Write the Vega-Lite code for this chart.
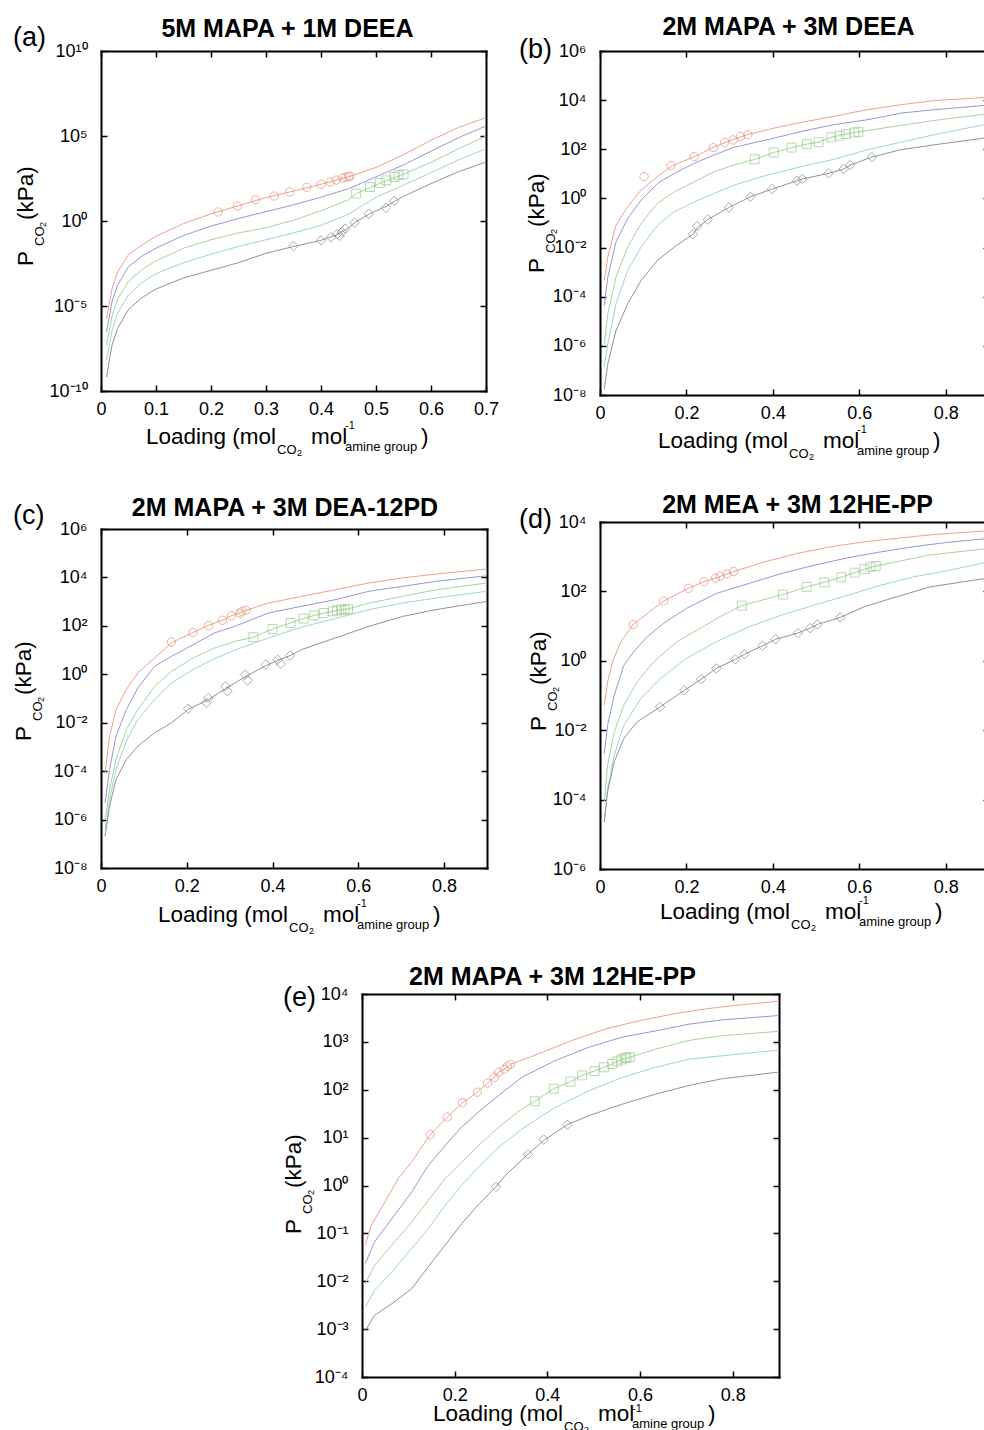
{
  "$schema": "https://vega.github.io/schema/vega-lite/v6.json",
  "padding": {"left": 12, "top": 15, "right": 0, "bottom": 0},
  "autosize": {"type": "pad"},
  "background": "white",
  "datasets": {
    "curves": [
      {"panel":"a","series":"s5","x":0.01,"p":1.78e-6},{"panel":"a","series":"s5","x":0.02,"p":1e-4},{"panel":"a","series":"s5","x":0.03,"p":1e-3},{"panel":"a","series":"s5","x":0.05,"p":1.05e-2},{"panel":"a","series":"s5","x":0.075,"p":3.98e-2},{"panel":"a","series":"s5","x":0.1,"p":0.126},{"panel":"a","series":"s5","x":0.15,"p":0.708},{"panel":"a","series":"s5","x":0.2,"p":2.63},{"panel":"a","series":"s5","x":0.25,"p":7.94},{"panel":"a","series":"s5","x":0.3,"p":24},{"panel":"a","series":"s5","x":0.35,"p":57.5},{"panel":"a","series":"s5","x":0.4,"p":145},{"panel":"a","series":"s5","x":0.45,"p":398},{"panel":"a","series":"s5","x":0.5,"p":1413},{"panel":"a","series":"s5","x":0.55,"p":7943},{"panel":"a","series":"s5","x":0.6,"p":56200},{"panel":"a","series":"s5","x":0.65,"p":316000},{"panel":"a","series":"s5","x":0.7,"p":1200000},
      {"panel":"a","series":"s4","x":0.01,"p":2.95e-7},{"panel":"a","series":"s4","x":0.02,"p":1.78e-5},{"panel":"a","series":"s4","x":0.03,"p":1.66e-4},{"panel":"a","series":"s4","x":0.05,"p":2.09e-3},{"panel":"a","series":"s4","x":0.075,"p":8.91e-3},{"panel":"a","series":"s4","x":0.1,"p":2.51e-2},{"panel":"a","series":"s4","x":0.15,"p":0.141},{"panel":"a","series":"s4","x":0.2,"p":0.501},{"panel":"a","series":"s4","x":0.25,"p":1.41},{"panel":"a","series":"s4","x":0.3,"p":3.55},{"panel":"a","series":"s4","x":0.35,"p":8.91},{"panel":"a","series":"s4","x":0.4,"p":25.1},{"panel":"a","series":"s4","x":0.45,"p":79.4},{"panel":"a","series":"s4","x":0.5,"p":398},{"panel":"a","series":"s4","x":0.55,"p":1995},{"panel":"a","series":"s4","x":0.6,"p":12600},{"panel":"a","series":"s4","x":0.65,"p":79400},{"panel":"a","series":"s4","x":0.7,"p":389000},
      {"panel":"a","series":"s3","x":0.01,"p":4.9e-8},{"panel":"a","series":"s3","x":0.02,"p":2.51e-6},{"panel":"a","series":"s3","x":0.03,"p":2.51e-5},{"panel":"a","series":"s3","x":0.05,"p":2.82e-4},{"panel":"a","series":"s3","x":0.075,"p":1.41e-3},{"panel":"a","series":"s3","x":0.1,"p":4.47e-3},{"panel":"a","series":"s3","x":0.15,"p":2.51e-2},{"panel":"a","series":"s3","x":0.2,"p":7.94e-2},{"panel":"a","series":"s3","x":0.25,"p":0.2},{"panel":"a","series":"s3","x":0.3,"p":0.398},{"panel":"a","series":"s3","x":0.35,"p":1.12},{"panel":"a","series":"s3","x":0.4,"p":3.98},{"panel":"a","series":"s3","x":0.45,"p":17.8},{"panel":"a","series":"s3","x":0.464,"p":39.8},{"panel":"a","series":"s3","x":0.49,"p":95.5},{"panel":"a","series":"s3","x":0.51,"p":178},{"panel":"a","series":"s3","x":0.55,"p":562},{"panel":"a","series":"s3","x":0.6,"p":2818},{"panel":"a","series":"s3","x":0.65,"p":17800},{"panel":"a","series":"s3","x":0.7,"p":100000},
      {"panel":"a","series":"s2","x":0.01,"p":6.31e-9},{"panel":"a","series":"s2","x":0.02,"p":3.55e-7},{"panel":"a","series":"s2","x":0.03,"p":3.55e-6},{"panel":"a","series":"s2","x":0.05,"p":4.47e-5},{"panel":"a","series":"s2","x":0.075,"p":2.51e-4},{"panel":"a","series":"s2","x":0.1,"p":7.94e-4},{"panel":"a","series":"s2","x":0.15,"p":3.55e-3},{"panel":"a","series":"s2","x":0.2,"p":1.12e-2},{"panel":"a","series":"s2","x":0.25,"p":3.16e-2},{"panel":"a","series":"s2","x":0.3,"p":7.94e-2},{"panel":"a","series":"s2","x":0.35,"p":0.2},{"panel":"a","series":"s2","x":0.4,"p":0.562},{"panel":"a","series":"s2","x":0.45,"p":2.51},{"panel":"a","series":"s2","x":0.5,"p":25.1},{"panel":"a","series":"s2","x":0.55,"p":126},{"panel":"a","series":"s2","x":0.6,"p":708},{"panel":"a","series":"s2","x":0.65,"p":3981},{"panel":"a","series":"s2","x":0.7,"p":17800},
      {"panel":"a","series":"s1","x":0.01,"p":6.61e-10},{"panel":"a","series":"s1","x":0.02,"p":5.01e-8},{"panel":"a","series":"s1","x":0.03,"p":4.68e-7},{"panel":"a","series":"s1","x":0.05,"p":6.31e-6},{"panel":"a","series":"s1","x":0.075,"p":3.16e-5},{"panel":"a","series":"s1","x":0.1,"p":1e-4},{"panel":"a","series":"s1","x":0.15,"p":4.47e-4},{"panel":"a","series":"s1","x":0.2,"p":1.26e-3},{"panel":"a","series":"s1","x":0.25,"p":3.55e-3},{"panel":"a","series":"s1","x":0.3,"p":1.26e-2},{"panel":"a","series":"s1","x":0.35,"p":3.16e-2},{"panel":"a","series":"s1","x":0.4,"p":7.24e-2},{"panel":"a","series":"s1","x":0.43,"p":0.158},{"panel":"a","series":"s1","x":0.45,"p":0.398},{"panel":"a","series":"s1","x":0.461,"p":0.794},{"panel":"a","series":"s1","x":0.487,"p":2.51},{"panel":"a","series":"s1","x":0.518,"p":7.08},{"panel":"a","series":"s1","x":0.533,"p":14.1},{"panel":"a","series":"s1","x":0.55,"p":28.2},{"panel":"a","series":"s1","x":0.6,"p":158},{"panel":"a","series":"s1","x":0.65,"p":794},{"panel":"a","series":"s1","x":0.7,"p":2951},

      {"panel":"b","series":"s5","x":0.01,"p":4.57e-4},{"panel":"b","series":"s5","x":0.018,"p":4.17e-3},{"panel":"b","series":"s5","x":0.037,"p":8.13e-2},{"panel":"b","series":"s5","x":0.064,"p":0.457},{"panel":"b","series":"s5","x":0.095,"p":2.19},{"panel":"b","series":"s5","x":0.133,"p":7.76},{"panel":"b","series":"s5","x":0.164,"p":20},{"panel":"b","series":"s5","x":0.218,"p":50.1},{"panel":"b","series":"s5","x":0.262,"p":120},{"panel":"b","series":"s5","x":0.308,"p":251},{"panel":"b","series":"s5","x":0.342,"p":398},{"panel":"b","series":"s5","x":0.402,"p":724},{"panel":"b","series":"s5","x":0.464,"p":1230},{"panel":"b","series":"s5","x":0.541,"p":2188},{"panel":"b","series":"s5","x":0.618,"p":4074},{"panel":"b","series":"s5","x":0.695,"p":6457},{"panel":"b","series":"s5","x":0.772,"p":9550},{"panel":"b","series":"s5","x":0.9,"p":13200},
      {"panel":"b","series":"s4","x":0.01,"p":4.37e-5},{"panel":"b","series":"s4","x":0.018,"p":6.31e-4},{"panel":"b","series":"s4","x":0.037,"p":1.7e-2},{"panel":"b","series":"s4","x":0.064,"p":0.151},{"panel":"b","series":"s4","x":0.095,"p":0.851},{"panel":"b","series":"s4","x":0.133,"p":4.07},{"panel":"b","series":"s4","x":0.172,"p":10.5},{"panel":"b","series":"s4","x":0.218,"p":26.9},{"panel":"b","series":"s4","x":0.264,"p":58.9},{"panel":"b","series":"s4","x":0.31,"p":120},{"panel":"b","series":"s4","x":0.402,"p":282},{"panel":"b","series":"s4","x":0.464,"p":525},{"panel":"b","series":"s4","x":0.541,"p":1000},{"panel":"b","series":"s4","x":0.618,"p":1585},{"panel":"b","series":"s4","x":0.695,"p":2951},{"panel":"b","series":"s4","x":0.772,"p":4074},{"panel":"b","series":"s4","x":0.9,"p":6310},
      {"panel":"b","series":"s3","x":0.01,"p":1.17e-6},{"panel":"b","series":"s3","x":0.018,"p":2e-5},{"panel":"b","series":"s3","x":0.037,"p":6.31e-4},{"panel":"b","series":"s3","x":0.064,"p":1.05e-2},{"panel":"b","series":"s3","x":0.095,"p":9.55e-2},{"panel":"b","series":"s3","x":0.133,"p":0.631},{"panel":"b","series":"s3","x":0.172,"p":1.86},{"panel":"b","series":"s3","x":0.218,"p":4.79},{"panel":"b","series":"s3","x":0.264,"p":12.3},{"panel":"b","series":"s3","x":0.31,"p":22.9},{"panel":"b","series":"s3","x":0.358,"p":38.9},{"panel":"b","series":"s3","x":0.402,"p":74.1},{"panel":"b","series":"s3","x":0.443,"p":117},{"panel":"b","series":"s3","x":0.479,"p":162},{"panel":"b","series":"s3","x":0.506,"p":195},{"panel":"b","series":"s3","x":0.535,"p":309},{"panel":"b","series":"s3","x":0.569,"p":417},{"panel":"b","series":"s3","x":0.598,"p":513},{"panel":"b","series":"s3","x":0.695,"p":933},{"panel":"b","series":"s3","x":0.772,"p":1479},{"panel":"b","series":"s3","x":0.9,"p":2818},
      {"panel":"b","series":"s2","x":0.01,"p":1.32e-7},{"panel":"b","series":"s2","x":0.018,"p":1.17e-6},{"panel":"b","series":"s2","x":0.037,"p":5.13e-5},{"panel":"b","series":"s2","x":0.064,"p":1.17e-3},{"panel":"b","series":"s2","x":0.095,"p":1.05e-2},{"panel":"b","series":"s2","x":0.133,"p":8.13e-2},{"panel":"b","series":"s2","x":0.172,"p":0.288},{"panel":"b","series":"s2","x":0.218,"p":0.724},{"panel":"b","series":"s2","x":0.264,"p":1.58},{"panel":"b","series":"s2","x":0.31,"p":3.47},{"panel":"b","series":"s2","x":0.387,"p":8.91},{"panel":"b","series":"s2","x":0.464,"p":19.5},{"panel":"b","series":"s2","x":0.541,"p":38.9},{"panel":"b","series":"s2","x":0.618,"p":95.5},{"panel":"b","series":"s2","x":0.695,"p":191},{"panel":"b","series":"s2","x":0.772,"p":389},{"panel":"b","series":"s2","x":0.9,"p":1096},
      {"panel":"b","series":"s1","x":0.01,"p":1.7e-8},{"panel":"b","series":"s1","x":0.018,"p":1.82e-7},{"panel":"b","series":"s1","x":0.037,"p":4.17e-6},{"panel":"b","series":"s1","x":0.064,"p":5.13e-5},{"panel":"b","series":"s1","x":0.095,"p":4.57e-4},{"panel":"b","series":"s1","x":0.133,"p":3.02e-3},{"panel":"b","series":"s1","x":0.172,"p":1.05e-2},{"panel":"b","series":"s1","x":0.215,"p":3.47e-2},{"panel":"b","series":"s1","x":0.225,"p":6.31e-2},{"panel":"b","series":"s1","x":0.249,"p":0.138},{"panel":"b","series":"s1","x":0.298,"p":0.427},{"panel":"b","series":"s1","x":0.348,"p":1.17},{"panel":"b","series":"s1","x":0.398,"p":2.4},{"panel":"b","series":"s1","x":0.456,"p":5.25},{"panel":"b","series":"s1","x":0.468,"p":6.17},{"panel":"b","series":"s1","x":0.529,"p":10.5},{"panel":"b","series":"s1","x":0.564,"p":15.8},{"panel":"b","series":"s1","x":0.579,"p":22.9},{"panel":"b","series":"s1","x":0.629,"p":47.9},{"panel":"b","series":"s1","x":0.695,"p":95.5},{"panel":"b","series":"s1","x":0.772,"p":151},{"panel":"b","series":"s1","x":0.9,"p":302},

      {"panel":"c","series":"s5","x":0.0094,"p":8.51e-5},{"panel":"c","series":"s5","x":0.02,"p":2.75e-3},{"panel":"c","series":"s5","x":0.035,"p":3.47e-2},{"panel":"c","series":"s5","x":0.059,"p":0.234},{"panel":"c","series":"s5","x":0.086,"p":1.15},{"panel":"c","series":"s5","x":0.125,"p":4.68},{"panel":"c","series":"s5","x":0.164,"p":20},{"panel":"c","series":"s5","x":0.215,"p":53.7},{"panel":"c","series":"s5","x":0.251,"p":105},{"panel":"c","series":"s5","x":0.283,"p":170},{"panel":"c","series":"s5","x":0.304,"p":263},{"panel":"c","series":"s5","x":0.324,"p":339},{"panel":"c","series":"s5","x":0.338,"p":437},{"panel":"c","series":"s5","x":0.39,"p":871},{"panel":"c","series":"s5","x":0.468,"p":1660},{"panel":"c","series":"s5","x":0.546,"p":3090},{"panel":"c","series":"s5","x":0.625,"p":5888},{"panel":"c","series":"s5","x":0.703,"p":9550},{"panel":"c","series":"s5","x":0.781,"p":13800},{"panel":"c","series":"s5","x":0.9,"p":22400},
      {"panel":"c","series":"s4","x":0.0094,"p":4.9e-6},{"panel":"c","series":"s4","x":0.02,"p":1.17e-4},{"panel":"c","series":"s4","x":0.035,"p":2.75e-3},{"panel":"c","series":"s4","x":0.059,"p":3.47e-2},{"panel":"c","series":"s4","x":0.086,"p":0.275},{"panel":"c","series":"s4","x":0.125,"p":2.14},{"panel":"c","series":"s4","x":0.164,"p":5.5},{"panel":"c","series":"s4","x":0.215,"p":16.6},{"panel":"c","series":"s4","x":0.265,"p":51.3},{"panel":"c","series":"s4","x":0.312,"p":95.5},{"panel":"c","series":"s4","x":0.39,"p":339},{"panel":"c","series":"s4","x":0.468,"p":646},{"panel":"c","series":"s4","x":0.546,"p":1202},{"panel":"c","series":"s4","x":0.625,"p":2692},{"panel":"c","series":"s4","x":0.703,"p":4266},{"panel":"c","series":"s4","x":0.781,"p":6918},{"panel":"c","series":"s4","x":0.9,"p":11700},
      {"panel":"c","series":"s3","x":0.0094,"p":1e-6},{"panel":"c","series":"s3","x":0.02,"p":1.74e-5},{"panel":"c","series":"s3","x":0.035,"p":3.02e-4},{"panel":"c","series":"s3","x":0.059,"p":5.25e-3},{"panel":"c","series":"s3","x":0.086,"p":3.47e-2},{"panel":"c","series":"s3","x":0.125,"p":0.316},{"panel":"c","series":"s3","x":0.164,"p":1.32},{"panel":"c","series":"s3","x":0.215,"p":4.68},{"panel":"c","series":"s3","x":0.265,"p":12.3},{"panel":"c","series":"s3","x":0.312,"p":22.9},{"panel":"c","series":"s3","x":0.355,"p":33.9},{"panel":"c","series":"s3","x":0.4,"p":74.1},{"panel":"c","series":"s3","x":0.442,"p":132},{"panel":"c","series":"s3","x":0.472,"p":200},{"panel":"c","series":"s3","x":0.497,"p":269},{"panel":"c","series":"s3","x":0.519,"p":339},{"panel":"c","series":"s3","x":0.541,"p":398},{"panel":"c","series":"s3","x":0.56,"p":468},{"panel":"c","series":"s3","x":0.576,"p":501},{"panel":"c","series":"s3","x":0.625,"p":871},{"panel":"c","series":"s3","x":0.703,"p":1660},{"panel":"c","series":"s3","x":0.781,"p":3090},{"panel":"c","series":"s3","x":0.9,"p":5888},
      {"panel":"c","series":"s2","x":0.0094,"p":3.89e-7},{"panel":"c","series":"s2","x":0.02,"p":6.76e-6},{"panel":"c","series":"s2","x":0.035,"p":1.17e-4},{"panel":"c","series":"s2","x":0.059,"p":1.74e-3},{"panel":"c","series":"s2","x":0.086,"p":1.35e-2},{"panel":"c","series":"s2","x":0.125,"p":8.91e-2},{"panel":"c","series":"s2","x":0.164,"p":0.437},{"panel":"c","series":"s2","x":0.215,"p":1.58},{"panel":"c","series":"s2","x":0.265,"p":4.47},{"panel":"c","series":"s2","x":0.312,"p":10},{"panel":"c","series":"s2","x":0.39,"p":31.6},{"panel":"c","series":"s2","x":0.468,"p":89.1},{"panel":"c","series":"s2","x":0.546,"p":200},{"panel":"c","series":"s2","x":0.625,"p":468},{"panel":"c","series":"s2","x":0.703,"p":871},{"panel":"c","series":"s2","x":0.781,"p":1413},{"panel":"c","series":"s2","x":0.9,"p":2692},
      {"panel":"c","series":"s1","x":0.0094,"p":2.04e-7},{"panel":"c","series":"s1","x":0.02,"p":3.55e-6},{"panel":"c","series":"s1","x":0.035,"p":4.47e-5},{"panel":"c","series":"s1","x":0.059,"p":3.02e-4},{"panel":"c","series":"s1","x":0.086,"p":1.07e-3},{"panel":"c","series":"s1","x":0.125,"p":3.8e-3},{"panel":"c","series":"s1","x":0.164,"p":9.77e-3},{"panel":"c","series":"s1","x":0.203,"p":3.55e-2},{"panel":"c","series":"s1","x":0.25,"p":8.91e-2},{"panel":"c","series":"s1","x":0.29,"p":0.251},{"panel":"c","series":"s1","x":0.336,"p":0.794},{"panel":"c","series":"s1","x":0.384,"p":2.24},{"panel":"c","series":"s1","x":0.412,"p":3.8},{"panel":"c","series":"s1","x":0.441,"p":5.89},{"panel":"c","series":"s1","x":0.468,"p":10.5},{"panel":"c","series":"s1","x":0.546,"p":31.6},{"panel":"c","series":"s1","x":0.625,"p":95.5},{"panel":"c","series":"s1","x":0.703,"p":245},{"panel":"c","series":"s1","x":0.781,"p":468},{"panel":"c","series":"s1","x":0.9,"p":1023},

      {"panel":"d","series":"s5","x":0.0099,"p":5.25e-2},{"panel":"d","series":"s5","x":0.0175,"p":0.245},{"panel":"d","series":"s5","x":0.029,"p":0.933},{"panel":"d","series":"s5","x":0.048,"p":3.55},{"panel":"d","series":"s5","x":0.077,"p":11.2},{"panel":"d","series":"s5","x":0.147,"p":52.5},{"panel":"d","series":"s5","x":0.205,"p":123},{"panel":"d","series":"s5","x":0.241,"p":191},{"panel":"d","series":"s5","x":0.267,"p":240},{"panel":"d","series":"s5","x":0.294,"p":316},{"panel":"d","series":"s5","x":0.309,"p":372},{"panel":"d","series":"s5","x":0.383,"p":724},{"panel":"d","series":"s5","x":0.459,"p":1259},{"panel":"d","series":"s5","x":0.536,"p":1950},{"panel":"d","series":"s5","x":0.612,"p":2692},{"panel":"d","series":"s5","x":0.688,"p":3388},{"panel":"d","series":"s5","x":0.764,"p":4266},{"panel":"d","series":"s5","x":0.9,"p":5623},
      {"panel":"d","series":"s4","x":0.0099,"p":2.14e-3},{"panel":"d","series":"s4","x":0.0175,"p":1.38e-2},{"panel":"d","series":"s4","x":0.033,"p":0.102},{"panel":"d","series":"s4","x":0.055,"p":0.741},{"panel":"d","series":"s4","x":0.078,"p":1.82},{"panel":"d","series":"s4","x":0.109,"p":4.9},{"panel":"d","series":"s4","x":0.147,"p":12},{"panel":"d","series":"s4","x":0.2,"p":32.4},{"panel":"d","series":"s4","x":0.269,"p":87.1},{"panel":"d","series":"s4","x":0.345,"p":170},{"panel":"d","series":"s4","x":0.421,"p":331},{"panel":"d","series":"s4","x":0.497,"p":575},{"panel":"d","series":"s4","x":0.574,"p":933},{"panel":"d","series":"s4","x":0.65,"p":1380},{"panel":"d","series":"s4","x":0.726,"p":1950},{"panel":"d","series":"s4","x":0.802,"p":2570},{"panel":"d","series":"s4","x":0.9,"p":3388},
      {"panel":"d","series":"s3","x":0.0099,"p":8.51e-5},{"panel":"d","series":"s3","x":0.0175,"p":9.77e-4},{"panel":"d","series":"s3","x":0.033,"p":8.91e-3},{"panel":"d","series":"s3","x":0.055,"p":5.25e-2},{"panel":"d","series":"s3","x":0.086,"p":0.245},{"panel":"d","series":"s3","x":0.124,"p":0.933},{"panel":"d","series":"s3","x":0.178,"p":3.55},{"panel":"d","series":"s3","x":0.231,"p":8.51},{"panel":"d","series":"s3","x":0.277,"p":18.6},{"panel":"d","series":"s3","x":0.328,"p":38.9},{"panel":"d","series":"s3","x":0.423,"p":81.3},{"panel":"d","series":"s3","x":0.478,"p":135},{"panel":"d","series":"s3","x":0.519,"p":182},{"panel":"d","series":"s3","x":0.558,"p":257},{"panel":"d","series":"s3","x":0.589,"p":347},{"panel":"d","series":"s3","x":0.612,"p":437},{"panel":"d","series":"s3","x":0.638,"p":537},{"panel":"d","series":"s3","x":0.688,"p":724},{"panel":"d","series":"s3","x":0.764,"p":1122},{"panel":"d","series":"s3","x":0.9,"p":1738},
      {"panel":"d","series":"s2","x":0.0099,"p":2.29e-5},{"panel":"d","series":"s2","x":0.0175,"p":2.09e-4},{"panel":"d","series":"s2","x":0.033,"p":1.91e-3},{"panel":"d","series":"s2","x":0.055,"p":1.38e-2},{"panel":"d","series":"s2","x":0.094,"p":8.13e-2},{"panel":"d","series":"s2","x":0.14,"p":0.309},{"panel":"d","series":"s2","x":0.2,"p":1.17},{"panel":"d","series":"s2","x":0.269,"p":3.55},{"panel":"d","series":"s2","x":0.345,"p":9.55},{"panel":"d","series":"s2","x":0.421,"p":20.9},{"panel":"d","series":"s2","x":0.497,"p":40.7},{"panel":"d","series":"s2","x":0.574,"p":77.6},{"panel":"d","series":"s2","x":0.65,"p":151},{"panel":"d","series":"s2","x":0.726,"p":263},{"panel":"d","series":"s2","x":0.802,"p":389},{"panel":"d","series":"s2","x":0.9,"p":724},
      {"panel":"d","series":"s1","x":0.0099,"p":2.29e-5},{"panel":"d","series":"s1","x":0.0175,"p":1.66e-4},{"panel":"d","series":"s1","x":0.033,"p":1.23e-3},{"panel":"d","series":"s1","x":0.055,"p":5.75e-3},{"panel":"d","series":"s1","x":0.086,"p":1.74e-2},{"panel":"d","series":"s1","x":0.139,"p":4.68e-2},{"panel":"d","series":"s1","x":0.195,"p":0.141},{"panel":"d","series":"s1","x":0.234,"p":0.295},{"panel":"d","series":"s1","x":0.269,"p":0.603},{"panel":"d","series":"s1","x":0.313,"p":1.1},{"panel":"d","series":"s1","x":0.334,"p":1.55},{"panel":"d","series":"s1","x":0.376,"p":2.69},{"panel":"d","series":"s1","x":0.406,"p":4.17},{"panel":"d","series":"s1","x":0.458,"p":6.31},{"panel":"d","series":"s1","x":0.486,"p":8.71},{"panel":"d","series":"s1","x":0.503,"p":11.2},{"panel":"d","series":"s1","x":0.556,"p":17.8},{"panel":"d","series":"s1","x":0.612,"p":36.3},{"panel":"d","series":"s1","x":0.688,"p":70.8},{"panel":"d","series":"s1","x":0.764,"p":135},{"panel":"d","series":"s1","x":0.9,"p":245},

      {"panel":"e","series":"s5","x":0.0072,"p":5.62e-2},{"panel":"e","series":"s5","x":0.02,"p":0.148},{"panel":"e","series":"s5","x":0.049,"p":0.447},{"panel":"e","series":"s5","x":0.078,"p":1.38},{"panel":"e","series":"s5","x":0.107,"p":3.09},{"panel":"e","series":"s5","x":0.147,"p":11.5},{"panel":"e","series":"s5","x":0.184,"p":26.9},{"panel":"e","series":"s5","x":0.217,"p":53.7},{"panel":"e","series":"s5","x":0.249,"p":89.1},{"panel":"e","series":"s5","x":0.271,"p":138},{"panel":"e","series":"s5","x":0.285,"p":182},{"panel":"e","series":"s5","x":0.295,"p":234},{"panel":"e","series":"s5","x":0.307,"p":269},{"panel":"e","series":"s5","x":0.32,"p":339},{"panel":"e","series":"s5","x":0.381,"p":562},{"panel":"e","series":"s5","x":0.453,"p":1072},{"panel":"e","series":"s5","x":0.526,"p":1862},{"panel":"e","series":"s5","x":0.598,"p":2754},{"panel":"e","series":"s5","x":0.67,"p":3802},{"panel":"e","series":"s5","x":0.742,"p":4898},{"panel":"e","series":"s5","x":0.814,"p":5888},{"panel":"e","series":"s5","x":0.9,"p":7079},
      {"panel":"e","series":"s4","x":0.0072,"p":2.34e-2},{"panel":"e","series":"s4","x":0.027,"p":6.61e-2},{"panel":"e","series":"s4","x":0.064,"p":0.2},{"panel":"e","series":"s4","x":0.107,"p":0.724},{"panel":"e","series":"s4","x":0.143,"p":2.63},{"panel":"e","series":"s4","x":0.179,"p":6.76},{"panel":"e","series":"s4","x":0.215,"p":16.6},{"panel":"e","series":"s4","x":0.251,"p":33.9},{"panel":"e","series":"s4","x":0.295,"p":75.9},{"panel":"e","series":"s4","x":0.345,"p":182},{"panel":"e","series":"s4","x":0.417,"p":407},{"panel":"e","series":"s4","x":0.49,"p":776},{"panel":"e","series":"s4","x":0.562,"p":1259},{"panel":"e","series":"s4","x":0.634,"p":1698},{"panel":"e","series":"s4","x":0.706,"p":2344},{"panel":"e","series":"s4","x":0.778,"p":2884},{"panel":"e","series":"s4","x":0.9,"p":3548},
      {"panel":"e","series":"s3","x":0.0072,"p":8.91e-3},{"panel":"e","series":"s3","x":0.027,"p":2.14e-2},{"panel":"e","series":"s3","x":0.064,"p":5.62e-2},{"panel":"e","series":"s3","x":0.107,"p":0.17},{"panel":"e","series":"s3","x":0.143,"p":0.49},{"panel":"e","series":"s3","x":0.179,"p":1.38},{"panel":"e","series":"s3","x":0.215,"p":3.09},{"panel":"e","series":"s3","x":0.251,"p":6.76},{"panel":"e","series":"s3","x":0.295,"p":16.6},{"panel":"e","series":"s3","x":0.345,"p":39.8},{"panel":"e","series":"s3","x":0.373,"p":57.5},{"panel":"e","series":"s3","x":0.414,"p":105},{"panel":"e","series":"s3","x":0.45,"p":148},{"panel":"e","series":"s3","x":0.475,"p":200},{"panel":"e","series":"s3","x":0.502,"p":245},{"panel":"e","series":"s3","x":0.522,"p":295},{"panel":"e","series":"s3","x":0.54,"p":347},{"panel":"e","series":"s3","x":0.56,"p":427},{"panel":"e","series":"s3","x":0.578,"p":479},{"panel":"e","series":"s3","x":0.634,"p":708},{"panel":"e","series":"s3","x":0.706,"p":1072},{"panel":"e","series":"s3","x":0.778,"p":1349},{"panel":"e","series":"s3","x":0.9,"p":1660},
      {"panel":"e","series":"s2","x":0.0072,"p":2.88e-3},{"panel":"e","series":"s2","x":0.027,"p":6.46e-3},{"panel":"e","series":"s2","x":0.064,"p":1.55e-2},{"panel":"e","series":"s2","x":0.107,"p":4.79e-2},{"panel":"e","series":"s2","x":0.143,"p":0.126},{"panel":"e","series":"s2","x":0.179,"p":0.38},{"panel":"e","series":"s2","x":0.215,"p":1},{"panel":"e","series":"s2","x":0.251,"p":2.4},{"panel":"e","series":"s2","x":0.295,"p":6.31},{"panel":"e","series":"s2","x":0.345,"p":15.1},{"panel":"e","series":"s2","x":0.417,"p":42.7},{"panel":"e","series":"s2","x":0.49,"p":95.5},{"panel":"e","series":"s2","x":0.562,"p":182},{"panel":"e","series":"s2","x":0.634,"p":295},{"panel":"e","series":"s2","x":0.706,"p":437},{"panel":"e","series":"s2","x":0.778,"p":513},{"panel":"e","series":"s2","x":0.9,"p":676},
      {"panel":"e","series":"s1","x":0.0072,"p":9.33e-4},{"panel":"e","series":"s1","x":0.027,"p":1.95e-3},{"panel":"e","series":"s1","x":0.064,"p":3.39e-3},{"panel":"e","series":"s1","x":0.107,"p":6.92e-3},{"panel":"e","series":"s1","x":0.143,"p":2e-2},{"panel":"e","series":"s1","x":0.179,"p":5.62e-2},{"panel":"e","series":"s1","x":0.215,"p":0.158},{"panel":"e","series":"s1","x":0.251,"p":0.398},{"panel":"e","series":"s1","x":0.289,"p":0.933},{"panel":"e","series":"s1","x":0.309,"p":1.62},{"panel":"e","series":"s1","x":0.358,"p":4.47},{"panel":"e","series":"s1","x":0.392,"p":8.71},{"panel":"e","series":"s1","x":0.443,"p":18.6},{"panel":"e","series":"s1","x":0.49,"p":28.8},{"panel":"e","series":"s1","x":0.562,"p":50.1},{"panel":"e","series":"s1","x":0.634,"p":81.3},{"panel":"e","series":"s1","x":0.706,"p":123},{"panel":"e","series":"s1","x":0.778,"p":170},{"panel":"e","series":"s1","x":0.9,"p":234}
    ],
    "points": [
      {"panel":"a","series":"s5","x":0.213,"p":3.39},{"panel":"a","series":"s5","x":0.248,"p":7.59},{"panel":"a","series":"s5","x":0.281,"p":17.8},{"panel":"a","series":"s5","x":0.315,"p":29.5},{"panel":"a","series":"s5","x":0.343,"p":51.3},{"panel":"a","series":"s5","x":0.374,"p":95.5},{"panel":"a","series":"s5","x":0.4,"p":145},{"panel":"a","series":"s5","x":0.417,"p":195},{"panel":"a","series":"s5","x":0.428,"p":257},{"panel":"a","series":"s5","x":0.439,"p":324},{"panel":"a","series":"s5","x":0.445,"p":372},{"panel":"a","series":"s5","x":0.45,"p":407},{"panel":"a","series":"s5","x":0.453,"p":427},
      {"panel":"a","series":"s3","x":0.464,"p":40.7},{"panel":"a","series":"s3","x":0.489,"p":100},{"panel":"a","series":"s3","x":0.507,"p":174},{"panel":"a","series":"s3","x":0.519,"p":245},{"panel":"a","series":"s3","x":0.533,"p":389},{"panel":"a","series":"s3","x":0.541,"p":490},{"panel":"a","series":"s3","x":0.55,"p":562},
      {"panel":"a","series":"s1","x":0.35,"p":3.39e-2},{"panel":"a","series":"s1","x":0.4,"p":7.24e-2},{"panel":"a","series":"s1","x":0.418,"p":0.11},{"panel":"a","series":"s1","x":0.43,"p":0.178},{"panel":"a","series":"s1","x":0.434,"p":0.132},{"panel":"a","series":"s1","x":0.438,"p":0.224},{"panel":"a","series":"s1","x":0.444,"p":0.355},{"panel":"a","series":"s1","x":0.461,"p":0.794},{"panel":"a","series":"s1","x":0.487,"p":2.69},{"panel":"a","series":"s1","x":0.518,"p":6.03},{"panel":"a","series":"s1","x":0.533,"p":15.1},
      {"panel":"b","series":"s5","x":0.102,"p":7.76},{"panel":"b","series":"s5","x":0.164,"p":21.9},{"panel":"b","series":"s5","x":0.218,"p":50.1},{"panel":"b","series":"s5","x":0.262,"p":117},{"panel":"b","series":"s5","x":0.288,"p":191},{"panel":"b","series":"s5","x":0.308,"p":240},{"panel":"b","series":"s5","x":0.325,"p":331},{"panel":"b","series":"s5","x":0.342,"p":389},
      {"panel":"b","series":"s3","x":0.358,"p":38.9},{"panel":"b","series":"s3","x":0.402,"p":74.1},{"panel":"b","series":"s3","x":0.443,"p":117},{"panel":"b","series":"s3","x":0.479,"p":162},{"panel":"b","series":"s3","x":0.506,"p":195},{"panel":"b","series":"s3","x":0.535,"p":309},{"panel":"b","series":"s3","x":0.554,"p":355},{"panel":"b","series":"s3","x":0.569,"p":417},{"panel":"b","series":"s3","x":0.588,"p":479},{"panel":"b","series":"s3","x":0.598,"p":513},
      {"panel":"b","series":"s1","x":0.215,"p":3.47e-2},{"panel":"b","series":"s1","x":0.225,"p":7.41e-2},{"panel":"b","series":"s1","x":0.249,"p":0.138},{"panel":"b","series":"s1","x":0.298,"p":0.427},{"panel":"b","series":"s1","x":0.348,"p":1.17},{"panel":"b","series":"s1","x":0.398,"p":2.4},{"panel":"b","series":"s1","x":0.456,"p":5.25},{"panel":"b","series":"s1","x":0.468,"p":6.17},{"panel":"b","series":"s1","x":0.529,"p":10.5},{"panel":"b","series":"s1","x":0.564,"p":15.8},{"panel":"b","series":"s1","x":0.579,"p":22.9},{"panel":"b","series":"s1","x":0.629,"p":47.9},
      {"panel":"c","series":"s5","x":0.164,"p":21.4},{"panel":"c","series":"s5","x":0.214,"p":53.7},{"panel":"c","series":"s5","x":0.251,"p":102},{"panel":"c","series":"s5","x":0.283,"p":170},{"panel":"c","series":"s5","x":0.304,"p":263},{"panel":"c","series":"s5","x":0.324,"p":339},{"panel":"c","series":"s5","x":0.329,"p":398},{"panel":"c","series":"s5","x":0.338,"p":437},
      {"panel":"c","series":"s3","x":0.355,"p":33.9},{"panel":"c","series":"s3","x":0.4,"p":74.1},{"panel":"c","series":"s3","x":0.442,"p":132},{"panel":"c","series":"s3","x":0.472,"p":200},{"panel":"c","series":"s3","x":0.497,"p":269},{"panel":"c","series":"s3","x":0.519,"p":339},{"panel":"c","series":"s3","x":0.541,"p":398},{"panel":"c","series":"s3","x":0.55,"p":437},{"panel":"c","series":"s3","x":0.56,"p":468},{"panel":"c","series":"s3","x":0.568,"p":468},{"panel":"c","series":"s3","x":0.576,"p":501},
      {"panel":"c","series":"s1","x":0.203,"p":3.8e-2},{"panel":"c","series":"s1","x":0.246,"p":6.61e-2},{"panel":"c","series":"s1","x":0.25,"p":0.105},{"panel":"c","series":"s1","x":0.29,"p":0.316},{"panel":"c","series":"s1","x":0.295,"p":0.2},{"panel":"c","series":"s1","x":0.336,"p":0.977},{"panel":"c","series":"s1","x":0.342,"p":0.562},{"panel":"c","series":"s1","x":0.384,"p":2.51},{"panel":"c","series":"s1","x":0.412,"p":3.98},{"panel":"c","series":"s1","x":0.419,"p":2.69},{"panel":"c","series":"s1","x":0.441,"p":5.89},
      {"panel":"d","series":"s5","x":0.077,"p":11.2},{"panel":"d","series":"s5","x":0.147,"p":52.5},{"panel":"d","series":"s5","x":0.205,"p":123},{"panel":"d","series":"s5","x":0.241,"p":191},{"panel":"d","series":"s5","x":0.267,"p":240},{"panel":"d","series":"s5","x":0.278,"p":275},{"panel":"d","series":"s5","x":0.294,"p":316},{"panel":"d","series":"s5","x":0.309,"p":372},
      {"panel":"d","series":"s3","x":0.328,"p":38.9},{"panel":"d","series":"s3","x":0.423,"p":81.3},{"panel":"d","series":"s3","x":0.478,"p":135},{"panel":"d","series":"s3","x":0.519,"p":182},{"panel":"d","series":"s3","x":0.558,"p":257},{"panel":"d","series":"s3","x":0.589,"p":347},{"panel":"d","series":"s3","x":0.612,"p":437},{"panel":"d","series":"s3","x":0.626,"p":513},{"panel":"d","series":"s3","x":0.638,"p":537},
      {"panel":"d","series":"s1","x":0.139,"p":4.68e-2},{"panel":"d","series":"s1","x":0.195,"p":0.141},{"panel":"d","series":"s1","x":0.234,"p":0.295},{"panel":"d","series":"s1","x":0.269,"p":0.603},{"panel":"d","series":"s1","x":0.313,"p":1.1},{"panel":"d","series":"s1","x":0.334,"p":1.55},{"panel":"d","series":"s1","x":0.376,"p":2.69},{"panel":"d","series":"s1","x":0.406,"p":4.17},{"panel":"d","series":"s1","x":0.458,"p":6.31},{"panel":"d","series":"s1","x":0.486,"p":8.71},{"panel":"d","series":"s1","x":0.503,"p":11.2},{"panel":"d","series":"s1","x":0.556,"p":17.8},
      {"panel":"e","series":"s5","x":0.147,"p":11.5},{"panel":"e","series":"s5","x":0.184,"p":26.9},{"panel":"e","series":"s5","x":0.217,"p":53.7},{"panel":"e","series":"s5","x":0.249,"p":89.1},{"panel":"e","series":"s5","x":0.271,"p":138},{"panel":"e","series":"s5","x":0.285,"p":182},{"panel":"e","series":"s5","x":0.295,"p":234},{"panel":"e","series":"s5","x":0.307,"p":269},{"panel":"e","series":"s5","x":0.314,"p":309},{"panel":"e","series":"s5","x":0.32,"p":339},
      {"panel":"e","series":"s3","x":0.373,"p":57.5},{"panel":"e","series":"s3","x":0.414,"p":105},{"panel":"e","series":"s3","x":0.45,"p":148},{"panel":"e","series":"s3","x":0.475,"p":200},{"panel":"e","series":"s3","x":0.502,"p":245},{"panel":"e","series":"s3","x":0.522,"p":295},{"panel":"e","series":"s3","x":0.54,"p":347},{"panel":"e","series":"s3","x":0.551,"p":389},{"panel":"e","series":"s3","x":0.56,"p":427},{"panel":"e","series":"s3","x":0.567,"p":457},{"panel":"e","series":"s3","x":0.571,"p":468},{"panel":"e","series":"s3","x":0.578,"p":479},
      {"panel":"e","series":"s1","x":0.289,"p":0.933},{"panel":"e","series":"s1","x":0.358,"p":4.47},{"panel":"e","series":"s1","x":0.392,"p":9.12},{"panel":"e","series":"s1","x":0.443,"p":18.6}
    ]
  },
  "spacing": 29,
  "vconcat": [
    {
      "spacing": 20,
      "hconcat": [
        {
          "bounds": "flush",
          "spacing": 138,
          "vconcat": [
            {
              "width": 385, "height": 340,
              "layer": [
                {"data": {"name": "curves"}, "transform": [{"filter": "datum.panel == 'a'"}],
                 "mark": {"type": "line", "strokeWidth": 1, "clip": true},
                 "encoding": {
                   "x": {"field": "x", "type": "quantitative", "scale": {"domain": [0, 0.7]}, "axis": {"orient": "bottom", "values": [0,0.1,0.2,0.3,0.4,0.5,0.6,0.7], "format": "~g", "title": null}},
                   "y": {"field": "p", "type": "quantitative", "scale": {"type": "log", "domain": [1e-10, 1e10]}, "axis": {"orient": "left", "values": [1e-10,1e-5,1,1e5,1e10], "labelExpr": "'10' + ['⁻¹⁰','⁻⁹','⁻⁸','⁻⁷','⁻⁶','⁻⁵','⁻⁴','⁻³','⁻²','⁻¹','⁰','¹','²','³','⁴','⁵','⁶','⁷','⁸','⁹','¹⁰'][round(log(datum.value) / LN10) + 10]", "title": null}},
                   "color": {"field": "series", "type": "nominal", "scale": {"domain": ["s1","s2","s3","s4","s5"], "range": ["#939393","#9dd5d0","#a3d59a","#9b94d5","#eea08f"]}, "legend": null}
                 }},
                {"data": {"name": "points"}, "transform": [{"filter": "datum.panel == 'a'"}],
                 "mark": {"type": "point", "filled": false, "strokeWidth": 1},
                 "encoding": {
                   "x": {"field": "x", "type": "quantitative", "axis": {"orient": "top", "values": [0,0.1,0.2,0.3,0.4,0.5,0.6,0.7], "labels": false, "title": null}},
                   "y": {"field": "p", "type": "quantitative", "axis": {"orient": "right", "values": [1e-10,1e-5,1,1e5,1e10], "labels": false, "title": null}},
                   "stroke": {"field": "series", "type": "nominal", "scale": {"domain": ["s1","s3","s5"], "range": ["#888888","#98cc8c","#e88f7c"]}, "legend": null},
                   "shape": {"field": "series", "type": "nominal", "scale": {"domain": ["s1","s3","s5"], "range": ["diamond","square","circle"]}, "legend": null},
                   "size": {"field": "series", "type": "ordinal", "scale": {"domain": ["s1","s3","s5"], "range": [90,70,72]}, "legend": null}
                 }},
                {"data": {"values": [{}]}, "mark": {"type": "text", "style": "lab", "text": "(a)", "dx": -88, "dy": -5}, "encoding": {"x": {"datum": 0, "axis": null}, "y": {"datum": 1e10, "axis": null}}},
                {"data": {"values": [{}]}, "mark": {"type": "text", "style": "ttl", "text": "5M MAPA + 1M DEEA", "dx": -6, "dy": -14}, "encoding": {"x": {"datum": 0.35, "axis": null}, "y": {"datum": 1e10, "axis": null}}},
                {"data": {"values": [{}]}, "mark": {"type": "text", "style": ["t22","rot"], "text": "P", "dx": 125, "dy": -68}, "encoding": {"x": {"datum": 0, "axis": null}, "y": {"datum": 1e-10, "axis": null}}},
                {"data": {"values": [{}]}, "mark": {"type": "text", "style": ["t13","rot"], "text": "CO", "dx": 145, "dy": -57}, "encoding": {"x": {"datum": 0, "axis": null}, "y": {"datum": 1e-10, "axis": null}}},
                {"data": {"values": [{}]}, "mark": {"type": "text", "style": ["t9","rot"], "text": "2", "dx": 164, "dy": -55}, "encoding": {"x": {"datum": 0, "axis": null}, "y": {"datum": 1e-10, "axis": null}}},
                {"data": {"values": [{}]}, "mark": {"type": "text", "style": ["t22","rot"], "text": "(kPa)", "dx": 171, "dy": -68}, "encoding": {"x": {"datum": 0, "axis": null}, "y": {"datum": 1e-10, "axis": null}}},
                {"data": {"values": [{}]}, "mark": {"type": "text", "style": "t22", "text": "Loading (mol", "dx": 45, "dy": 53}, "encoding": {"x": {"datum": 0, "axis": null}, "y": {"datum": 1e-10, "axis": null}}},
                {"data": {"values": [{}]}, "mark": {"type": "text", "style": "t13", "text": "CO", "dx": 176, "dy": 63}, "encoding": {"x": {"datum": 0, "axis": null}, "y": {"datum": 1e-10, "axis": null}}},
                {"data": {"values": [{}]}, "mark": {"type": "text", "style": "t9", "text": "2", "dx": 196, "dy": 65}, "encoding": {"x": {"datum": 0, "axis": null}, "y": {"datum": 1e-10, "axis": null}}},
                {"data": {"values": [{}]}, "mark": {"type": "text", "style": "t22", "text": "mol", "dx": 210, "dy": 53}, "encoding": {"x": {"datum": 0, "axis": null}, "y": {"datum": 1e-10, "axis": null}}},
                {"data": {"values": [{}]}, "mark": {"type": "text", "style": "t11", "text": "-1", "dx": 244, "dy": 38}, "encoding": {"x": {"datum": 0, "axis": null}, "y": {"datum": 1e-10, "axis": null}}},
                {"data": {"values": [{}]}, "mark": {"type": "text", "style": "t13", "text": "amine group", "dx": 244, "dy": 60}, "encoding": {"x": {"datum": 0, "axis": null}, "y": {"datum": 1e-10, "axis": null}}},
                {"data": {"values": [{}]}, "mark": {"type": "text", "style": "t22", "text": ")", "dx": 320, "dy": 53}, "encoding": {"x": {"datum": 0, "axis": null}, "y": {"datum": 1e-10, "axis": null}}}
              ],
              "resolve": {"axis": {"x": "independent", "y": "independent"}}
            },
            {
              "width": 386, "height": 339,
              "layer": [
                {"data": {"name": "curves"}, "transform": [{"filter": "datum.panel == 'c'"}],
                 "mark": {"type": "line", "strokeWidth": 1, "clip": true},
                 "encoding": {
                   "x": {"field": "x", "type": "quantitative", "scale": {"domain": [0, 0.9]}, "axis": {"orient": "bottom", "values": [0,0.2,0.4,0.6,0.8], "format": "~g", "title": null}},
                   "y": {"field": "p", "type": "quantitative", "scale": {"type": "log", "domain": [1e-8, 1e6]}, "axis": {"orient": "left", "values": [1e-8,1e-6,1e-4,1e-2,1,1e2,1e4,1e6], "labelExpr": "'10' + ['⁻¹⁰','⁻⁹','⁻⁸','⁻⁷','⁻⁶','⁻⁵','⁻⁴','⁻³','⁻²','⁻¹','⁰','¹','²','³','⁴','⁵','⁶','⁷','⁸','⁹','¹⁰'][round(log(datum.value) / LN10) + 10]", "title": null}},
                   "color": {"field": "series", "type": "nominal", "scale": {"domain": ["s1","s2","s3","s4","s5"], "range": ["#939393","#9dd5d0","#a3d59a","#9b94d5","#eea08f"]}, "legend": null}
                 }},
                {"data": {"name": "points"}, "transform": [{"filter": "datum.panel == 'c'"}],
                 "mark": {"type": "point", "filled": false, "strokeWidth": 1},
                 "encoding": {
                   "x": {"field": "x", "type": "quantitative", "axis": {"orient": "top", "values": [0,0.2,0.4,0.6,0.8], "labels": false, "title": null}},
                   "y": {"field": "p", "type": "quantitative", "axis": {"orient": "right", "values": [1e-8,1e-6,1e-4,1e-2,1,1e2,1e4,1e6], "labels": false, "title": null}},
                   "stroke": {"field": "series", "type": "nominal", "scale": {"domain": ["s1","s3","s5"], "range": ["#888888","#98cc8c","#e88f7c"]}, "legend": null},
                   "shape": {"field": "series", "type": "nominal", "scale": {"domain": ["s1","s3","s5"], "range": ["diamond","square","circle"]}, "legend": null},
                   "size": {"field": "series", "type": "ordinal", "scale": {"domain": ["s1","s3","s5"], "range": [90,70,72]}, "legend": null}
                 }},
                {"data": {"values": [{}]}, "mark": {"type": "text", "style": "lab", "text": "(c)", "dx": -88, "dy": -5}, "encoding": {"x": {"datum": 0, "axis": null}, "y": {"datum": 1e6, "axis": null}}},
                {"data": {"values": [{}]}, "mark": {"type": "text", "style": "ttl", "text": "2M MAPA + 3M DEA-12PD", "dx": -9, "dy": -13}, "encoding": {"x": {"datum": 0.45, "axis": null}, "y": {"datum": 1e6, "axis": null}}},
                {"data": {"values": [{}]}, "mark": {"type": "text", "style": ["t22","rot"], "text": "P", "dx": 127, "dy": -70}, "encoding": {"x": {"datum": 0, "axis": null}, "y": {"datum": 1e-8, "axis": null}}},
                {"data": {"values": [{}]}, "mark": {"type": "text", "style": ["t13","rot"], "text": "CO", "dx": 147, "dy": -59}, "encoding": {"x": {"datum": 0, "axis": null}, "y": {"datum": 1e-8, "axis": null}}},
                {"data": {"values": [{}]}, "mark": {"type": "text", "style": ["t9","rot"], "text": "2", "dx": 166, "dy": -57}, "encoding": {"x": {"datum": 0, "axis": null}, "y": {"datum": 1e-8, "axis": null}}},
                {"data": {"values": [{}]}, "mark": {"type": "text", "style": ["t22","rot"], "text": "(kPa)", "dx": 173, "dy": -70}, "encoding": {"x": {"datum": 0, "axis": null}, "y": {"datum": 1e-8, "axis": null}}},
                {"data": {"values": [{}]}, "mark": {"type": "text", "style": "t22", "text": "Loading (mol", "dx": 57, "dy": 54}, "encoding": {"x": {"datum": 0, "axis": null}, "y": {"datum": 1e-8, "axis": null}}},
                {"data": {"values": [{}]}, "mark": {"type": "text", "style": "t13", "text": "CO", "dx": 188, "dy": 64}, "encoding": {"x": {"datum": 0, "axis": null}, "y": {"datum": 1e-8, "axis": null}}},
                {"data": {"values": [{}]}, "mark": {"type": "text", "style": "t9", "text": "2", "dx": 208, "dy": 66}, "encoding": {"x": {"datum": 0, "axis": null}, "y": {"datum": 1e-8, "axis": null}}},
                {"data": {"values": [{}]}, "mark": {"type": "text", "style": "t22", "text": "mol", "dx": 222, "dy": 54}, "encoding": {"x": {"datum": 0, "axis": null}, "y": {"datum": 1e-8, "axis": null}}},
                {"data": {"values": [{}]}, "mark": {"type": "text", "style": "t11", "text": "-1", "dx": 256, "dy": 39}, "encoding": {"x": {"datum": 0, "axis": null}, "y": {"datum": 1e-8, "axis": null}}},
                {"data": {"values": [{}]}, "mark": {"type": "text", "style": "t13", "text": "amine group", "dx": 256, "dy": 61}, "encoding": {"x": {"datum": 0, "axis": null}, "y": {"datum": 1e-8, "axis": null}}},
                {"data": {"values": [{}]}, "mark": {"type": "text", "style": "t22", "text": ")", "dx": 332, "dy": 54}, "encoding": {"x": {"datum": 0, "axis": null}, "y": {"datum": 1e-8, "axis": null}}}
              ],
              "resolve": {"axis": {"x": "independent", "y": "independent"}}
            }
          ]
        },
        {
          "bounds": "flush",
          "spacing": 127,
          "vconcat": [
            {
              "width": 389, "height": 344,
              "layer": [
                {"data": {"name": "curves"}, "transform": [{"filter": "datum.panel == 'b'"}],
                 "mark": {"type": "line", "strokeWidth": 1, "clip": true},
                 "encoding": {
                   "x": {"field": "x", "type": "quantitative", "scale": {"domain": [0, 0.9]}, "axis": {"orient": "bottom", "values": [0,0.2,0.4,0.6,0.8], "format": "~g", "title": null}},
                   "y": {"field": "p", "type": "quantitative", "scale": {"type": "log", "domain": [1e-8, 1e6]}, "axis": {"orient": "left", "values": [1e-8,1e-6,1e-4,1e-2,1,1e2,1e4,1e6], "labelExpr": "'10' + ['⁻¹⁰','⁻⁹','⁻⁸','⁻⁷','⁻⁶','⁻⁵','⁻⁴','⁻³','⁻²','⁻¹','⁰','¹','²','³','⁴','⁵','⁶','⁷','⁸','⁹','¹⁰'][round(log(datum.value) / LN10) + 10]", "title": null}},
                   "color": {"field": "series", "type": "nominal", "scale": {"domain": ["s1","s2","s3","s4","s5"], "range": ["#939393","#9dd5d0","#a3d59a","#9b94d5","#eea08f"]}, "legend": null}
                 }},
                {"data": {"name": "points"}, "transform": [{"filter": "datum.panel == 'b'"}],
                 "mark": {"type": "point", "filled": false, "strokeWidth": 1},
                 "encoding": {
                   "x": {"field": "x", "type": "quantitative", "axis": {"orient": "top", "values": [0,0.2,0.4,0.6,0.8], "labels": false, "title": null}},
                   "y": {"field": "p", "type": "quantitative", "axis": {"orient": "right", "values": [1e-8,1e-6,1e-4,1e-2,1,1e2,1e4,1e6], "labels": false, "title": null}},
                   "stroke": {"field": "series", "type": "nominal", "scale": {"domain": ["s1","s3","s5"], "range": ["#888888","#98cc8c","#e88f7c"]}, "legend": null},
                   "shape": {"field": "series", "type": "nominal", "scale": {"domain": ["s1","s3","s5"], "range": ["diamond","square","circle"]}, "legend": null},
                   "size": {"field": "series", "type": "ordinal", "scale": {"domain": ["s1","s3","s5"], "range": [90,70,72]}, "legend": null}
                 }},
                {"data": {"values": [{}]}, "mark": {"type": "text", "style": "lab", "text": "(b)", "dx": -81, "dy": 7}, "encoding": {"x": {"datum": 0, "axis": null}, "y": {"datum": 1e6, "axis": null}}},
                {"data": {"values": [{}]}, "mark": {"type": "text", "style": "ttl", "text": "2M MAPA + 3M DEEA", "dx": -6, "dy": -16}, "encoding": {"x": {"datum": 0.45, "axis": null}, "y": {"datum": 1e6, "axis": null}}},
                {"data": {"values": [{}]}, "mark": {"type": "text", "style": ["t22","rot"], "text": "P", "dx": 122, "dy": -56}, "encoding": {"x": {"datum": 0, "axis": null}, "y": {"datum": 1e-8, "axis": null}}},
                {"data": {"values": [{}]}, "mark": {"type": "text", "style": ["t13","rot"], "text": "CO", "dx": 142, "dy": -45}, "encoding": {"x": {"datum": 0, "axis": null}, "y": {"datum": 1e-8, "axis": null}}},
                {"data": {"values": [{}]}, "mark": {"type": "text", "style": ["t9","rot"], "text": "2", "dx": 161, "dy": -43}, "encoding": {"x": {"datum": 0, "axis": null}, "y": {"datum": 1e-8, "axis": null}}},
                {"data": {"values": [{}]}, "mark": {"type": "text", "style": ["t22","rot"], "text": "(kPa)", "dx": 168, "dy": -56}, "encoding": {"x": {"datum": 0, "axis": null}, "y": {"datum": 1e-8, "axis": null}}},
                {"data": {"values": [{}]}, "mark": {"type": "text", "style": "t22", "text": "Loading (mol", "dx": 58, "dy": 53}, "encoding": {"x": {"datum": 0, "axis": null}, "y": {"datum": 1e-8, "axis": null}}},
                {"data": {"values": [{}]}, "mark": {"type": "text", "style": "t13", "text": "CO", "dx": 189, "dy": 63}, "encoding": {"x": {"datum": 0, "axis": null}, "y": {"datum": 1e-8, "axis": null}}},
                {"data": {"values": [{}]}, "mark": {"type": "text", "style": "t9", "text": "2", "dx": 209, "dy": 65}, "encoding": {"x": {"datum": 0, "axis": null}, "y": {"datum": 1e-8, "axis": null}}},
                {"data": {"values": [{}]}, "mark": {"type": "text", "style": "t22", "text": "mol", "dx": 223, "dy": 53}, "encoding": {"x": {"datum": 0, "axis": null}, "y": {"datum": 1e-8, "axis": null}}},
                {"data": {"values": [{}]}, "mark": {"type": "text", "style": "t11", "text": "-1", "dx": 257, "dy": 38}, "encoding": {"x": {"datum": 0, "axis": null}, "y": {"datum": 1e-8, "axis": null}}},
                {"data": {"values": [{}]}, "mark": {"type": "text", "style": "t13", "text": "amine group", "dx": 257, "dy": 60}, "encoding": {"x": {"datum": 0, "axis": null}, "y": {"datum": 1e-8, "axis": null}}},
                {"data": {"values": [{}]}, "mark": {"type": "text", "style": "t22", "text": ")", "dx": 333, "dy": 53}, "encoding": {"x": {"datum": 0, "axis": null}, "y": {"datum": 1e-8, "axis": null}}}
              ],
              "resolve": {"axis": {"x": "independent", "y": "independent"}}
            },
            {
              "width": 389, "height": 347,
              "layer": [
                {"data": {"name": "curves"}, "transform": [{"filter": "datum.panel == 'd'"}],
                 "mark": {"type": "line", "strokeWidth": 1, "clip": true},
                 "encoding": {
                   "x": {"field": "x", "type": "quantitative", "scale": {"domain": [0, 0.9]}, "axis": {"orient": "bottom", "values": [0,0.2,0.4,0.6,0.8], "format": "~g", "title": null}},
                   "y": {"field": "p", "type": "quantitative", "scale": {"type": "log", "domain": [1e-6, 1e4]}, "axis": {"orient": "left", "values": [1e-6,1e-4,1e-2,1,1e2,1e4], "labelExpr": "'10' + ['⁻¹⁰','⁻⁹','⁻⁸','⁻⁷','⁻⁶','⁻⁵','⁻⁴','⁻³','⁻²','⁻¹','⁰','¹','²','³','⁴','⁵','⁶','⁷','⁸','⁹','¹⁰'][round(log(datum.value) / LN10) + 10]", "title": null}},
                   "color": {"field": "series", "type": "nominal", "scale": {"domain": ["s1","s2","s3","s4","s5"], "range": ["#939393","#9dd5d0","#a3d59a","#9b94d5","#eea08f"]}, "legend": null}
                 }},
                {"data": {"name": "points"}, "transform": [{"filter": "datum.panel == 'd'"}],
                 "mark": {"type": "point", "filled": false, "strokeWidth": 1},
                 "encoding": {
                   "x": {"field": "x", "type": "quantitative", "axis": {"orient": "top", "values": [0,0.2,0.4,0.6,0.8], "labels": false, "title": null}},
                   "y": {"field": "p", "type": "quantitative", "axis": {"orient": "right", "values": [1e-6,1e-4,1e-2,1,1e2,1e4], "labels": false, "title": null}},
                   "stroke": {"field": "series", "type": "nominal", "scale": {"domain": ["s1","s3","s5"], "range": ["#888888","#98cc8c","#e88f7c"]}, "legend": null},
                   "shape": {"field": "series", "type": "nominal", "scale": {"domain": ["s1","s3","s5"], "range": ["diamond","square","circle"]}, "legend": null},
                   "size": {"field": "series", "type": "ordinal", "scale": {"domain": ["s1","s3","s5"], "range": [90,70,72]}, "legend": null}
                 }},
                {"data": {"values": [{}]}, "mark": {"type": "text", "style": "lab", "text": "(d)", "dx": -81, "dy": 6}, "encoding": {"x": {"datum": 0, "axis": null}, "y": {"datum": 1e4, "axis": null}}},
                {"data": {"values": [{}]}, "mark": {"type": "text", "style": "ttl", "text": "2M MEA + 3M 12HE-PP", "dx": 3, "dy": -9}, "encoding": {"x": {"datum": 0.45, "axis": null}, "y": {"datum": 1e4, "axis": null}}},
                {"data": {"values": [{}]}, "mark": {"type": "text", "style": ["t22","rot"], "text": "P", "dx": 138, "dy": -54}, "encoding": {"x": {"datum": 0, "axis": null}, "y": {"datum": 1e-6, "axis": null}}},
                {"data": {"values": [{}]}, "mark": {"type": "text", "style": ["t13","rot"], "text": "CO", "dx": 158, "dy": -43}, "encoding": {"x": {"datum": 0, "axis": null}, "y": {"datum": 1e-6, "axis": null}}},
                {"data": {"values": [{}]}, "mark": {"type": "text", "style": ["t9","rot"], "text": "2", "dx": 177, "dy": -41}, "encoding": {"x": {"datum": 0, "axis": null}, "y": {"datum": 1e-6, "axis": null}}},
                {"data": {"values": [{}]}, "mark": {"type": "text", "style": ["t22","rot"], "text": "(kPa)", "dx": 184, "dy": -54}, "encoding": {"x": {"datum": 0, "axis": null}, "y": {"datum": 1e-6, "axis": null}}},
                {"data": {"values": [{}]}, "mark": {"type": "text", "style": "t22", "text": "Loading (mol", "dx": 60, "dy": 50}, "encoding": {"x": {"datum": 0, "axis": null}, "y": {"datum": 1e-6, "axis": null}}},
                {"data": {"values": [{}]}, "mark": {"type": "text", "style": "t13", "text": "CO", "dx": 191, "dy": 60}, "encoding": {"x": {"datum": 0, "axis": null}, "y": {"datum": 1e-6, "axis": null}}},
                {"data": {"values": [{}]}, "mark": {"type": "text", "style": "t9", "text": "2", "dx": 211, "dy": 62}, "encoding": {"x": {"datum": 0, "axis": null}, "y": {"datum": 1e-6, "axis": null}}},
                {"data": {"values": [{}]}, "mark": {"type": "text", "style": "t22", "text": "mol", "dx": 225, "dy": 50}, "encoding": {"x": {"datum": 0, "axis": null}, "y": {"datum": 1e-6, "axis": null}}},
                {"data": {"values": [{}]}, "mark": {"type": "text", "style": "t11", "text": "-1", "dx": 259, "dy": 35}, "encoding": {"x": {"datum": 0, "axis": null}, "y": {"datum": 1e-6, "axis": null}}},
                {"data": {"values": [{}]}, "mark": {"type": "text", "style": "t13", "text": "amine group", "dx": 259, "dy": 57}, "encoding": {"x": {"datum": 0, "axis": null}, "y": {"datum": 1e-6, "axis": null}}},
                {"data": {"values": [{}]}, "mark": {"type": "text", "style": "t22", "text": ")", "dx": 335, "dy": 50}, "encoding": {"x": {"datum": 0, "axis": null}, "y": {"datum": 1e-6, "axis": null}}}
              ],
              "resolve": {"axis": {"x": "independent", "y": "independent"}}
            }
          ]
        }
      ]
    },
    {
      "bounds": "flush",
      "spacing": 10,
      "hconcat": [
        {"width": 251, "height": 1, "data": {"values": []}, "mark": {"type": "point", "opacity": 0}, "encoding": {}},
        {
          "width": 417, "height": 383,
          "layer": [
            {"data": {"name": "curves"}, "transform": [{"filter": "datum.panel == 'e'"}],
             "mark": {"type": "line", "strokeWidth": 1, "clip": true},
             "encoding": {
               "x": {"field": "x", "type": "quantitative", "scale": {"domain": [0, 0.9]}, "axis": {"orient": "bottom", "values": [0,0.2,0.4,0.6,0.8], "format": "~g", "title": null}},
               "y": {"field": "p", "type": "quantitative", "scale": {"type": "log", "domain": [1e-4, 1e4]}, "axis": {"orient": "left", "values": [1e-4,1e-3,1e-2,1e-1,1,10,1e2,1e3,1e4], "labelExpr": "'10' + ['⁻¹⁰','⁻⁹','⁻⁸','⁻⁷','⁻⁶','⁻⁵','⁻⁴','⁻³','⁻²','⁻¹','⁰','¹','²','³','⁴','⁵','⁶','⁷','⁸','⁹','¹⁰'][round(log(datum.value) / LN10) + 10]", "title": null}},
               "color": {"field": "series", "type": "nominal", "scale": {"domain": ["s1","s2","s3","s4","s5"], "range": ["#939393","#9dd5d0","#a3d59a","#9b94d5","#eea08f"]}, "legend": null}
             }},
            {"data": {"name": "points"}, "transform": [{"filter": "datum.panel == 'e'"}],
             "mark": {"type": "point", "filled": false, "strokeWidth": 1},
             "encoding": {
               "x": {"field": "x", "type": "quantitative", "axis": {"orient": "top", "values": [0,0.2,0.4,0.6,0.8], "labels": false, "title": null}},
               "y": {"field": "p", "type": "quantitative", "axis": {"orient": "right", "values": [1e-4,1e-3,1e-2,1e-1,1,10,1e2,1e3,1e4], "labels": false, "title": null}},
               "stroke": {"field": "series", "type": "nominal", "scale": {"domain": ["s1","s3","s5"], "range": ["#888888","#98cc8c","#e88f7c"]}, "legend": null},
               "shape": {"field": "series", "type": "nominal", "scale": {"domain": ["s1","s3","s5"], "range": ["diamond","square","circle"]}, "legend": null},
               "size": {"field": "series", "type": "ordinal", "scale": {"domain": ["s1","s3","s5"], "range": [90,70,72]}, "legend": null}
             }},
            {"data": {"values": [{}]}, "mark": {"type": "text", "style": "lab", "text": "(e)", "dx": -79, "dy": 12}, "encoding": {"x": {"datum": 0, "axis": null}, "y": {"datum": 1e4, "axis": null}}},
            {"data": {"values": [{}]}, "mark": {"type": "text", "style": "ttl", "text": "2M MAPA + 3M 12HE-PP", "dx": -18, "dy": -9}, "encoding": {"x": {"datum": 0.45, "axis": null}, "y": {"datum": 1e4, "axis": null}}},
            {"data": {"values": [{}]}, "mark": {"type": "text", "style": ["t22","rot"], "text": "P", "dx": 143, "dy": -61}, "encoding": {"x": {"datum": 0, "axis": null}, "y": {"datum": 1e-4, "axis": null}}},
            {"data": {"values": [{}]}, "mark": {"type": "text", "style": ["t13","rot"], "text": "CO", "dx": 163, "dy": -50}, "encoding": {"x": {"datum": 0, "axis": null}, "y": {"datum": 1e-4, "axis": null}}},
            {"data": {"values": [{}]}, "mark": {"type": "text", "style": ["t9","rot"], "text": "2", "dx": 182, "dy": -48}, "encoding": {"x": {"datum": 0, "axis": null}, "y": {"datum": 1e-4, "axis": null}}},
            {"data": {"values": [{}]}, "mark": {"type": "text", "style": ["t22","rot"], "text": "(kPa)", "dx": 189, "dy": -61}, "encoding": {"x": {"datum": 0, "axis": null}, "y": {"datum": 1e-4, "axis": null}}},
            {"data": {"values": [{}]}, "mark": {"type": "text", "style": "t22", "text": "Loading (mol", "dx": 71, "dy": 44}, "encoding": {"x": {"datum": 0, "axis": null}, "y": {"datum": 1e-4, "axis": null}}},
            {"data": {"values": [{}]}, "mark": {"type": "text", "style": "t13", "text": "CO", "dx": 202, "dy": 54}, "encoding": {"x": {"datum": 0, "axis": null}, "y": {"datum": 1e-4, "axis": null}}},
            {"data": {"values": [{}]}, "mark": {"type": "text", "style": "t9", "text": "2", "dx": 222, "dy": 56}, "encoding": {"x": {"datum": 0, "axis": null}, "y": {"datum": 1e-4, "axis": null}}},
            {"data": {"values": [{}]}, "mark": {"type": "text", "style": "t22", "text": "mol", "dx": 236, "dy": 44}, "encoding": {"x": {"datum": 0, "axis": null}, "y": {"datum": 1e-4, "axis": null}}},
            {"data": {"values": [{}]}, "mark": {"type": "text", "style": "t11", "text": "-1", "dx": 270, "dy": 35}, "encoding": {"x": {"datum": 0, "axis": null}, "y": {"datum": 1e-4, "axis": null}}},
            {"data": {"values": [{}]}, "mark": {"type": "text", "style": "t13", "text": "amine group", "dx": 270, "dy": 51}, "encoding": {"x": {"datum": 0, "axis": null}, "y": {"datum": 1e-4, "axis": null}}},
            {"data": {"values": [{}]}, "mark": {"type": "text", "style": "t22", "text": ")", "dx": 346, "dy": 44}, "encoding": {"x": {"datum": 0, "axis": null}, "y": {"datum": 1e-4, "axis": null}}}
          ],
          "resolve": {"axis": {"x": "independent", "y": "independent"}}
        }
      ]
    }
  ],
  "config": {
    "view": {"stroke": null},
    "font": "Liberation Sans",
    "axis": {"grid": false, "domainColor": "#000", "domainWidth": 2, "domainCap": "square", "tickColor": "#000", "tickWidth": 1.5, "tickSize": -6, "labelFont": "Liberation Sans", "labelFontSize": 18, "labelColor": "#000", "labelFlush": false, "labelOverlap": false},
    "axisX": {"labelPadding": 15},
    "axisY": {"labelPadding": 20},
    "text": {"font": "Liberation Sans", "color": "#000"},
    "style": {
      "lab": {"fontSize": 27, "align": "left", "baseline": "alphabetic"},
      "ttl": {"fontSize": 25, "fontWeight": "bold", "align": "center", "baseline": "alphabetic"},
      "t22": {"fontSize": 22.5, "align": "left", "baseline": "alphabetic"},
      "t13": {"fontSize": 13, "align": "left", "baseline": "alphabetic"},
      "t11": {"fontSize": 11, "align": "left", "baseline": "alphabetic"},
      "t9": {"fontSize": 9, "align": "left", "baseline": "alphabetic"},
      "rot": {"angle": 270}
    }
  }
}
